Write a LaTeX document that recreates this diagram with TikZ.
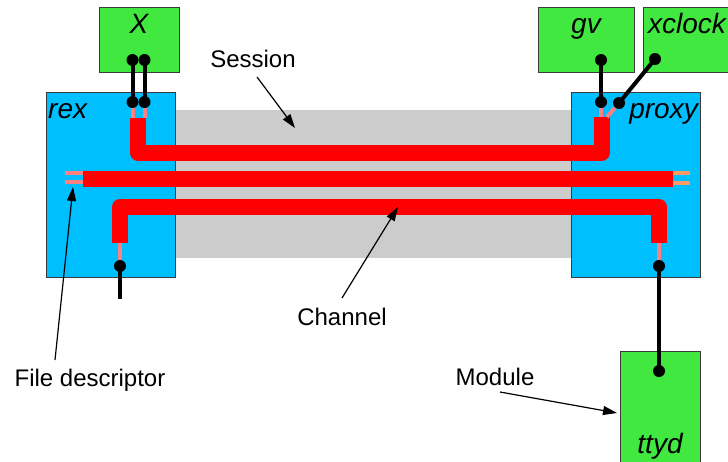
\documentclass[tikz,border=0pt]{standalone}
\usepackage{fontspec}
\setmainfont{Liberation Sans}
\usepackage{tikz}
\usetikzlibrary{positioning,arrows.meta,calc}
\definecolor{cBlue}{HTML}{00BFFF}
\definecolor{cGreen}{HTML}{40E840}
\definecolor{cGrey}{HTML}{CCCCCC}
\definecolor{cEdge}{HTML}{3A3A3A}
\definecolor{cPipe}{HTML}{FF0000}
\definecolor{cPink}{HTML}{FF8080}
\definecolor{cSalmon}{HTML}{FF9966}

\begin{document}
\begin{tikzpicture}[x=1pt,y=-1pt,
  host/.style={draw=cEdge,line width=0.8pt,fill=cBlue,inner sep=0pt},
  module/.style={draw=cEdge,line width=0.8pt,fill=cGreen,inner sep=0pt},
  modname/.style={font=\fontsize{28}{32}\selectfont\itshape,inner sep=0pt},
  callout/.style={font=\fontsize{24}{28}\selectfont,inner sep=0pt},
  pipe/.style={cPipe,line width=16pt,line join=round},
  fd/.style={cPink,line width=4pt},
  wire/.style={black,line width=4pt},
  dot/.style={circle,fill=black,inner sep=0pt,minimum size=12pt},
  ar/.style={-{Triangle[length=14pt,width=9pt]},line width=1.2pt}]

\clip (0,0) rectangle (728,461);

% session band and the two hosts
\node[fill=cGrey,minimum width=396pt,minimum height=148pt,inner sep=0pt] (sess) at (373,184) {};
\node[host,minimum width=129pt,minimum height=185pt] (rex) at (110.5,184.5) {};
\node[host,minimum width=129pt,minimum height=185pt] (proxy) at (635.5,184.5) {};

% modules
\node[module,minimum width=80pt,minimum height=65pt] (X) at (139,39.5) {};
\node[module,minimum width=96pt,minimum height=65pt] (gv) at (586,39.5) {};
\node[module,minimum width=100pt,minimum height=65pt] (xclock) at (693,39.5) {};
\node[module,minimum width=80pt,minimum height=120pt] (ttyd) at (660,411) {};

\node[modname,anchor=base] (lX) at (139,33) {X};
\node[modname,anchor=base west] (lrex) at (48,118) {rex};
\node[modname,anchor=base east] (lproxy) at (698,118) {proxy};
\node[modname,anchor=base] (lgv) at (586,33) {gv};
\node[modname,anchor=base west] (lxclock) at (648,33) {xclock};
\node[modname,anchor=base] (lttyd) at (660,453) {ttyd};

% channels
\coordinate (rA) at (138,118);
\coordinate (pA) at (601.5,117);
\coordinate (rB) at (83,178.5);
\coordinate (pB) at (673,178.5);
\coordinate (rC) at (120,243);
\coordinate (pC) at (659,243);
\draw[pipe] (rA) -- ++(0,34.5) -| (pA);
\draw[pipe] (rB) -- (pB);
\draw[pipe] (rC) -- ++(0,-36) -| (pC);

% file descriptors
\draw[fd] (rB) ++(0,-5.5) -- ++(-18,0);
\draw[fd] (rB) ++(0,3.5) -- ++(-18,0);
\draw[fd,cSalmon] (pB) ++(0,-5.5) -- ++(17,0);
\draw[fd,cSalmon] (pB) ++(0,4.5) -- ++(17,0);

\node[dot] (r1) at (132.5,102) {};
\node[dot] (r2) at (144.5,102) {};
\node[dot] (p1) at (601,102) {};
\node[dot] (p2) at (619,103) {};
\node[dot] (r3) at (120,266) {};
\node[dot] (p3) at (659,266) {};
\draw[fd] (r1.south) -- (r1.south |- rA);
\draw[fd] (r2.south) -- (r2.south |- rA);
\draw[fd] (p1.south) -- (p1.south |- pA);
\draw[fd] (p2) -- (607,117);
\draw[fd] (r3.north) -- (rC);
\draw[fd] (p3.north) -- (pC);

% module ends
\node[dot] (x1) at (132.5,60) {};
\node[dot] (x2) at (144.5,60) {};
\node[dot] (g1) at (601,60) {};
\node[dot] (c1) at (655,59) {};
\node[dot] (t1) at (659,371) {};
\coordinate (open) at (120,299);

\draw[wire] (x1.center) -- (r1.center);
\draw[wire] (x2.center) -- (r2.center);
\draw[wire] (g1.center) -- (p1.center);
\draw[wire] (c1.center) -- (p2.center);
\draw[wire] (r3.center) -- (open);
\draw[wire] (p3.center) -- (t1.center);

% callouts
\node[callout,anchor=base] (nsess) at (253,67) {Session};
\node[callout,anchor=base] (nchan) at (342,325) {Channel};
\node[callout,anchor=base] (nfd) at (90,386) {File descriptor};
\node[callout,anchor=base] (nmod) at (495,385) {Module};
\coordinate (aSess) at (295,128);
\coordinate (aChan) at (398,207);
\coordinate (aFd) at (73,187);
\coordinate (aMod) at (617,413);

\draw[ar] (257,77) -- (aSess);
\draw[ar] (342,298) -- (aChan);
\draw[ar] (55,360) -- (aFd);
\draw[ar] (500,392) -- (aMod);
\end{tikzpicture}
\end{document}
